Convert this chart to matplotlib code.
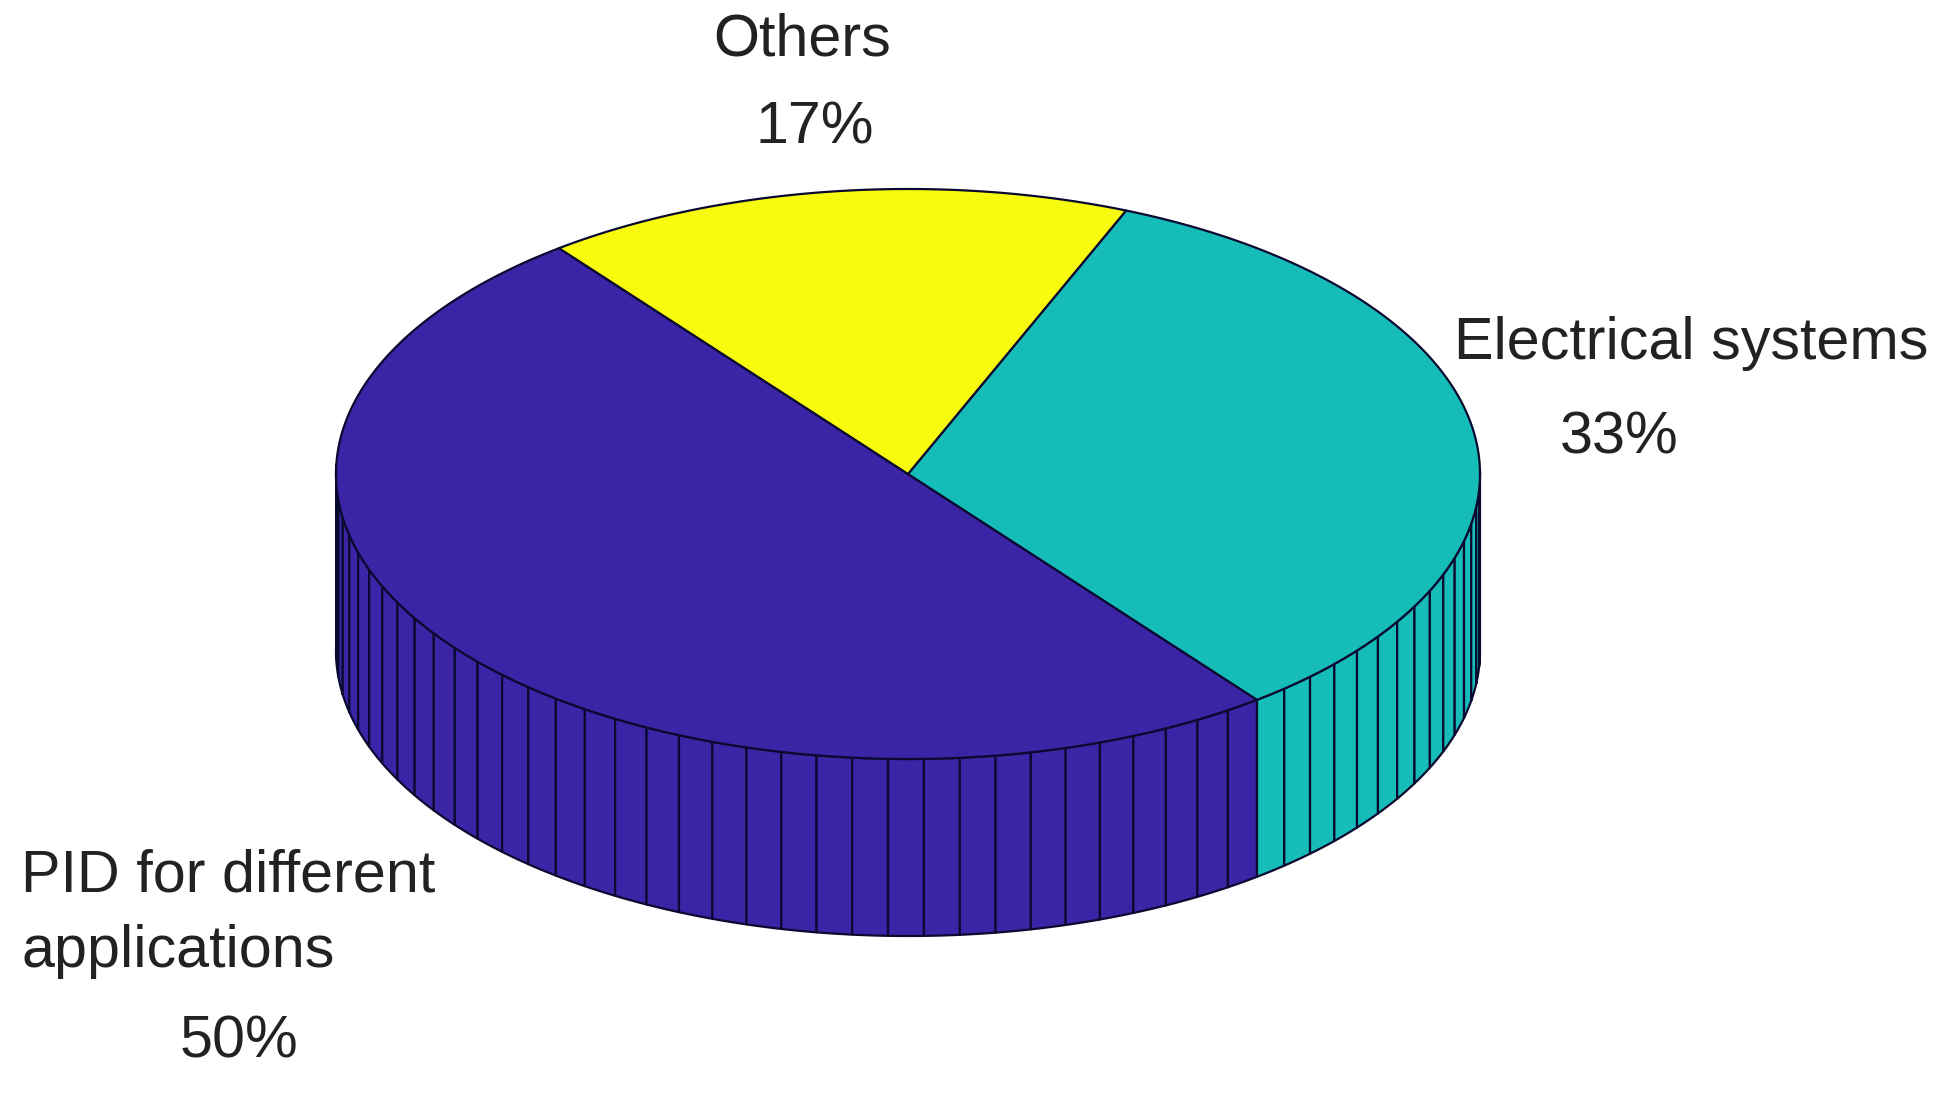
import numpy as np
import matplotlib
matplotlib.use('Agg')
import matplotlib.pyplot as plt
from matplotlib.patches import Polygon

# data: shares, order is counter clockwise
labels = ['PID for different\napplications', 'Electrical systems', 'Others']
shares = [50.0, 33.33, 16.67]
colors = ['#3C24A6', '#15BCB8', '#F9FB0E']

# pie geometry in figure pixels
cx, cy = 908, 474
rx, ry = 572, 285
depth = 177
start = 127.6
edge = '#0A0A30'

plt.rcParams['font.family'] = ['Liberation Sans', 'DejaVu Sans']

fig = plt.figure(figsize=(19.46, 10.95), dpi=100)
ax = fig.add_axes([0, 0, 1, 1])
ax.set_xlim(0, 1946)
ax.set_ylim(1095, 0)
ax.axis('off')


def rim(theta):
    t = np.radians(theta)
    return cx + rx * np.cos(t), cy - ry * np.sin(t)


angle = start
tops = []
for share, color in zip(shares, colors):
    # one side facet per percent, like pie3
    n = int(np.ceil(share))
    thetas = np.linspace(angle, angle + share * 3.6, n + 1)

    for i in range(n):
        if np.sin(np.radians(thetas[i])) < 0 or np.sin(np.radians(thetas[i + 1])) < 0:
            # few extra rim points so the outline stays smooth
            xs, ys = rim(np.linspace(thetas[i], thetas[i + 1], 6))
            quad = list(zip(xs, ys)) + list(zip(xs[::-1], ys[::-1] + depth))
            ax.add_patch(Polygon(quad, closed=True, facecolor=color, edgecolor=edge,
                                 linewidth=1.6, joinstyle='round', zorder=2))

    xs, ys = rim(np.linspace(angle, angle + share * 3.6, n * 6 + 1))
    tops.append((list(zip(xs, ys)), color))
    angle += share * 3.6

for pts, color in tops:
    ax.add_patch(Polygon([(cx, cy)] + pts, closed=True, facecolor=color, edgecolor=edge,
                         linewidth=1.6, joinstyle='round', zorder=3))

# labels sit where the original has them
txt = dict(fontsize=42.7, color='#222222', va='baseline', ha='left')
ax.text(21, 892, labels[0].split('\n')[0], **txt)
ax.text(21, 967, labels[0].split('\n')[1], **txt)
ax.text(180, 1057, f'{shares[0]:.0f}%', **txt)
ax.text(1454, 359, labels[1], **txt)
ax.text(1560, 453, f'{shares[1]:.0f}%', **txt)
ax.text(713, 56, labels[2], **txt)
ax.text(756, 144, f'{shares[2]:.0f}%', **txt)

fig.savefig('out.png', dpi=100, facecolor='white')
